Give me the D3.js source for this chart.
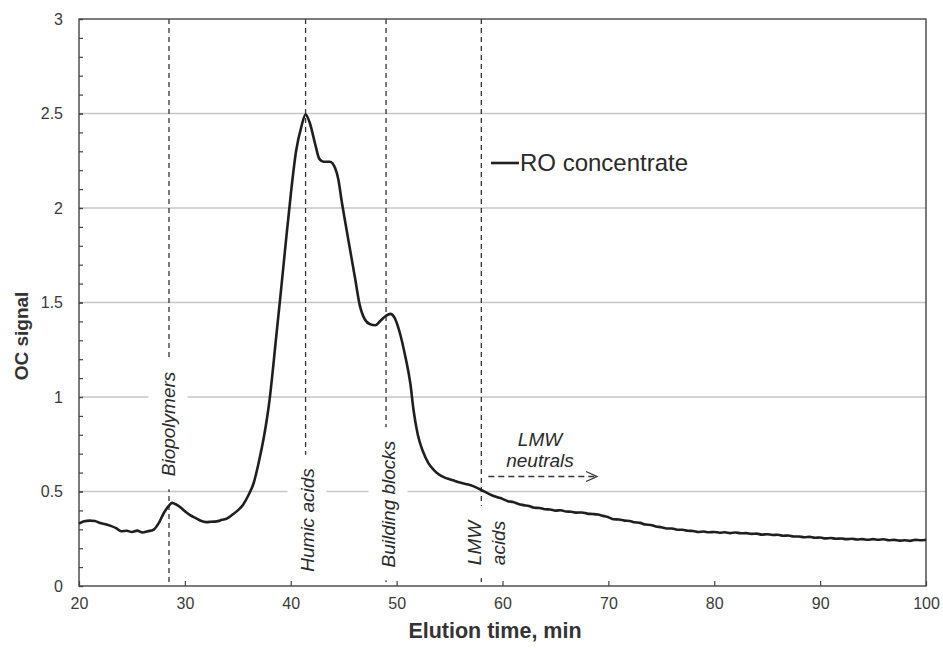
<!DOCTYPE html>
<html>
<head>
<meta charset="utf-8">
<script src="https://cdn.jsdelivr.net/npm/d3@7"></script>
<style>
  html, body { margin: 0; padding: 0; background: #fff; }
  svg { display: block; font-family: "Liberation Sans", Arial, sans-serif; }
</style>
</head>
<body>
<svg id="chart" width="943" height="648"></svg>
<script>
// Elution time (min) of the organic-carbon chromatogram
const elutionTime = [
  20, 20.5, 21, 21.5, 22, 22.5, 23, 23.5, 24, 24.5, 25, 25.5, 26, 26.5, 27, 27.5, 28, 28.5, 28.8, 29.2,
  29.6, 30, 30.5, 31, 31.5, 32, 32.5, 33, 33.5, 34, 34.5, 35, 35.5, 36, 36.5, 37, 37.5, 37.75, 38, 38.25,
  38.5, 39, 39.5, 40, 40.5, 41, 41.4, 41.8, 42.3, 42.7, 43.1, 43.7, 44.2, 44.5, 44.8, 45.1, 45.6, 46.1, 46.5, 47,
  47.5, 48, 48.5, 49, 49.4, 49.8, 50.3, 50.8, 51.3, 51.6, 52, 52.5, 53, 53.5, 54, 54.5, 55, 55.5, 56, 56.5,
  57, 57.5, 58, 58.5, 59, 59.5, 60, 60.5, 61, 61.5, 62, 62.5, 63, 63.5, 64, 64.5, 65, 65.5, 66, 66.5,
  67, 67.5, 68, 68.5, 69, 69.5, 70, 70.5, 71, 71.5, 72, 72.5, 73, 73.5, 74, 74.5, 75, 75.5, 76, 76.5,
  77, 77.5, 78, 78.5, 79, 79.5, 80, 80.5, 81, 81.5, 82, 82.5, 83, 83.5, 84, 84.5, 85, 85.5, 86, 86.5,
  87, 87.5, 88, 88.5, 89, 89.5, 90, 90.5, 91, 91.5, 92, 92.5, 93, 93.5, 94, 94.5, 95, 95.5, 96, 96.5,
  97, 97.5, 98, 98.5, 99, 99.5, 100
];
// OC detector signal, RO concentrate
const ocSignal = [
  0.330, 0.342, 0.346, 0.344, 0.333, 0.327, 0.318, 0.306, 0.290, 0.292, 0.286, 0.293, 0.283, 0.290, 0.296, 0.330, 0.385, 0.425, 0.440, 0.430,
  0.415, 0.395, 0.375, 0.360, 0.345, 0.338, 0.340, 0.342, 0.350, 0.358, 0.378, 0.400, 0.430, 0.480, 0.545, 0.660, 0.800, 0.885, 0.985, 1.110,
  1.250, 1.520, 1.800, 2.070, 2.300, 2.430, 2.495, 2.450, 2.340, 2.260, 2.245, 2.245, 2.210, 2.150, 2.040, 1.940, 1.780, 1.620, 1.490, 1.410,
  1.385, 1.380, 1.405, 1.430, 1.440, 1.420, 1.340, 1.220, 1.070, 0.930, 0.800, 0.710, 0.650, 0.615, 0.590, 0.575, 0.565, 0.556, 0.547, 0.540,
  0.533, 0.522, 0.508, 0.494, 0.480, 0.470, 0.461, 0.449, 0.444, 0.434, 0.428, 0.423, 0.414, 0.413, 0.406, 0.405, 0.399, 0.401, 0.394, 0.393,
  0.388, 0.389, 0.383, 0.381, 0.378, 0.371, 0.364, 0.353, 0.352, 0.346, 0.344, 0.337, 0.334, 0.325, 0.323, 0.315, 0.311, 0.304, 0.304, 0.298,
  0.298, 0.292, 0.291, 0.286, 0.288, 0.284, 0.286, 0.282, 0.284, 0.280, 0.283, 0.279, 0.280, 0.276, 0.277, 0.272, 0.274, 0.270, 0.271, 0.266,
  0.267, 0.262, 0.262, 0.258, 0.260, 0.255, 0.257, 0.252, 0.254, 0.250, 0.251, 0.248, 0.250, 0.246, 0.248, 0.245, 0.248, 0.245, 0.247, 0.242,
  0.244, 0.240, 0.242, 0.239, 0.244, 0.242, 0.245
];

const seriesName = "RO concentrate";
const xTickValues = [20, 30, 40, 50, 60, 70, 80, 90, 100];
const yTickValues = [0, 0.5, 1, 1.5, 2, 2.5, 3];
const yMinorTickValues = d3.range(0, 3.0001, 0.1);

// Fraction boundaries (min) and their names
const fractionNames = ["Biopolymers", "Humic acids", "Building blocks", "LMW acids"];
const fractionTimes = [28.5, 41.4, 49.0, 58.0];

const svg = d3.select("#chart");
const plotLeft = 79, plotRight = 926, plotTop = 19, plotBottom = 586;

const x = d3.scaleLinear().domain([20, 100]).range([plotLeft, plotRight]);
const y = d3.scaleLinear().domain([0, 3]).range([plotBottom, plotTop]);

// horizontal gridlines
svg.append("g").selectAll("line")
  .data(yTickValues.filter(v => v > 0 && v < 3))
  .join("line")
  .attr("x1", plotLeft).attr("x2", plotRight)
  .attr("y1", d => y(d)).attr("y2", d => y(d))
  .attr("stroke", "#c6c6c6").attr("stroke-width", 1.3);

// vertical dashed lines marking the fractions
svg.append("g").selectAll("line")
  .data(fractionTimes)
  .join("line")
  .attr("x1", d => x(d)).attr("x2", d => x(d))
  .attr("y1", plotTop).attr("y2", plotBottom)
  .attr("stroke", "#333").attr("stroke-width", 1.3)
  .attr("stroke-dasharray", "5,4");

// rotated fraction labels on white boxes
const labelFont = 19;
function rotatedLabel(lines, cx, cy) {
  const g = svg.append("g").attr("transform", `translate(${cx},${cy}) rotate(-90)`);
  const rect = g.append("rect").attr("fill", "#fff");
  const gap = labelFont * 1.3;
  const texts = lines.map((t, i) => g.append("text")
    .attr("x", 0)
    .attr("y", (i - (lines.length - 1) / 2) * gap)
    .attr("text-anchor", "middle")
    .attr("dominant-baseline", "central")
    .attr("font-style", "italic")
    .attr("font-size", labelFont)
    .attr("fill", "#2a2a2a")
    .text(t));
  let x0 = Infinity, x1 = -Infinity, y0 = Infinity, y1 = -Infinity;
  texts.forEach(t => {
    const b = t.node().getBBox();
    x0 = Math.min(x0, b.x); x1 = Math.max(x1, b.x + b.width);
    y0 = Math.min(y0, b.y); y1 = Math.max(y1, b.y + b.height);
  });
  rect.attr("x", x0 - 13).attr("width", x1 - x0 + 26)
      .attr("y", y0 - 9).attr("height", y1 - y0 + 18);
}
rotatedLabel([fractionNames[0]], 168, 424);
rotatedLabel([fractionNames[1]], 307, 520);
rotatedLabel([fractionNames[2]], 388, 504);
rotatedLabel(fractionNames[3].split(" "), 486.5, 543);

// LMW neutrals note with dashed arrow
const note = svg.append("g").attr("font-style", "italic").attr("font-size", labelFont)
  .attr("fill", "#2a2a2a").attr("text-anchor", "middle");
note.append("text").attr("x", 540).attr("y", 446).text("LMW");
note.append("text").attr("x", 540).attr("y", 467).text("neutrals");
svg.append("line")
  .attr("x1", x(fractionTimes[3]) + 7).attr("x2", 596)
  .attr("y1", 476.5).attr("y2", 476.5)
  .attr("stroke", "#333").attr("stroke-width", 1.3).attr("stroke-dasharray", "6,4");
svg.append("path")
  .attr("d", "M586,471.5 L597,476.5 L586,481.5")
  .attr("fill", "none").attr("stroke", "#333").attr("stroke-width", 1.3);

// axes with inward ticks
const xAxis = svg.append("g").attr("transform", `translate(0,${plotBottom})`)
  .call(d3.axisBottom(x).tickValues(xTickValues).tickSize(-5).tickPadding(12).tickFormat(d3.format("d")));
const yMinor = svg.append("g").attr("transform", `translate(${plotLeft},0)`)
  .call(d3.axisLeft(y).tickValues(yMinorTickValues).tickSize(-4).tickFormat(""));
const yAxis = svg.append("g").attr("transform", `translate(${plotLeft},0)`)
  .call(d3.axisLeft(y).tickValues(yTickValues).tickSize(-4).tickPadding(16).tickFormat(d3.format("~g")));
[xAxis, yAxis, yMinor].forEach(a => {
  a.select(".domain").remove();
  a.selectAll("line").attr("stroke", "#444").attr("stroke-width", 1.2);
  a.selectAll("text").attr("font-size", 16).attr("fill", "#3a3a3a")
    .attr("font-family", "'Liberation Sans', Arial, sans-serif");
});

// plot frame
svg.append("rect")
  .attr("x", plotLeft).attr("y", plotTop).attr("width", plotRight - plotLeft).attr("height", plotBottom - plotTop)
  .attr("fill", "none").attr("stroke", "#444").attr("stroke-width", 1.4);

// chromatogram
const data = elutionTime.map((t, i) => [t, ocSignal[i]]);
svg.append("path")
  .datum(data)
  .attr("fill", "none")
  .attr("stroke", "#1f1f1f")
  .attr("stroke-width", 2.6)
  .attr("stroke-linejoin", "round")
  .attr("d", d3.line().x(d => x(d[0])).y(d => y(d[1])).curve(d3.curveMonotoneX));

// legend
svg.append("line").attr("x1", 491).attr("x2", 519).attr("y1", 163).attr("y2", 163)
  .attr("stroke", "#1f1f1f").attr("stroke-width", 2.6);
svg.append("text").attr("x", 520).attr("y", 171).attr("font-size", 24).attr("fill", "#2a2a2a")
  .text(seriesName);

// axis titles
svg.append("text").attr("x", 495).attr("y", 638)
  .attr("text-anchor", "middle").attr("font-weight", "bold").attr("font-size", 21.5).attr("fill", "#333")
  .text("Elution time, min");
svg.append("text").attr("transform", `translate(28,336) rotate(-90)`)
  .attr("text-anchor", "middle").attr("font-weight", "bold").attr("font-size", 19).attr("fill", "#333")
  .text("OC signal");
</script>
</body>
</html>
